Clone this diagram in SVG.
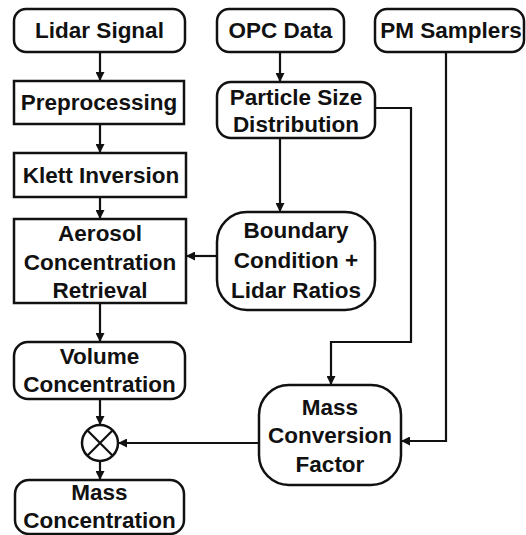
<svg xmlns="http://www.w3.org/2000/svg" width="526" height="535" viewBox="0 0 526 535">
<style>
.box{fill:#fff;stroke:#111;stroke-width:2.5}
.t{font-family:"Liberation Sans",Arial,sans-serif;font-weight:bold;font-size:22.5px;fill:#111;text-anchor:middle}
.c{fill:none;stroke:#111;stroke-width:2.2}
</style>
<defs>
<marker id="ah" viewBox="0 0 10 10" refX="10" refY="5" markerWidth="10" markerHeight="9" markerUnits="userSpaceOnUse" orient="auto">
<path d="M0,0 L10,5 L0,10 Z" fill="#111"/>
</marker>
</defs>
<g id="connectors">
<path class="c" d="M100,52 V81" marker-end="url(#ah)"/>
<path class="c" d="M100,124 V153" marker-end="url(#ah)"/>
<path class="c" d="M100,197 V219" marker-end="url(#ah)"/>
<path class="c" d="M100,303 V342" marker-end="url(#ah)"/>
<path class="c" d="M100,399 V425" marker-end="url(#ah)"/>
<path class="c" d="M100,461 V480" marker-end="url(#ah)"/>
<path class="c" d="M280,52 V82" marker-end="url(#ah)"/>
<path class="c" d="M280,138 V212" marker-end="url(#ah)"/>
<path class="c" d="M217,256 H186" marker-end="url(#ah)"/>
<path class="c" d="M375,108 H411 V342 H331 V385" marker-end="url(#ah)"/>
<path class="c" d="M446,52 V441 H401" marker-end="url(#ah)"/>
<path class="c" d="M259,443 H118" marker-end="url(#ah)"/>
</g>
<g id="lidar-signal">
<rect class="box" x="14" y="9" width="171" height="43" rx="12"/>
<text class="t" x="99.5" y="38">Lidar Signal</text>
</g>
<g id="opc-data">
<rect class="box" x="217" y="9" width="127" height="43" rx="12"/>
<text class="t" x="280.5" y="38">OPC Data</text>
</g>
<g id="pm-samplers">
<rect class="box" x="375" y="9" width="149" height="43" rx="12"/>
<text class="t" x="451" y="38">PM Samplers</text>
</g>
<g id="preprocessing">
<rect class="box" x="14" y="81" width="170" height="43"/>
<text class="t" x="99" y="110">Preprocessing</text>
</g>
<g id="klett-inversion">
<rect class="box" x="14" y="153" width="172" height="44"/>
<text class="t" x="101" y="183">Klett Inversion</text>
</g>
<g id="aerosol-retrieval">
<rect class="box" x="14" y="219" width="172" height="84"/>
<text class="t" x="100" y="241">Aerosol</text>
<text class="t" x="100" y="270">Concentration</text>
<text class="t" x="100" y="298">Retrieval</text>
</g>
<g id="volume-concentration">
<rect class="box" x="14" y="342" width="171" height="57" rx="14"/>
<text class="t" x="99.5" y="364">Volume</text>
<text class="t" x="99.5" y="392">Concentration</text>
</g>
<g id="multiply">
<circle class="box" cx="100" cy="443" r="18"/>
<path class="c" d="M87.3,430.3 L112.7,455.7 M112.7,430.3 L87.3,455.7"/>
</g>
<g id="mass-concentration">
<rect class="box" x="15" y="480" width="169" height="54" rx="14"/>
<text class="t" x="99.5" y="500">Mass</text>
<text class="t" x="99.5" y="528">Concentration</text>
</g>
<g id="particle-size-distribution">
<rect class="box" x="217" y="82" width="158" height="56" rx="14"/>
<text class="t" x="296" y="105">Particle Size</text>
<text class="t" x="296" y="132">Distribution</text>
</g>
<g id="boundary-condition">
<rect class="box" x="217" y="212" width="158" height="98" rx="30"/>
<text class="t" x="296" y="238">Boundary</text>
<text class="t" x="296" y="268">Condition +</text>
<text class="t" x="296" y="298">Lidar Ratios</text>
</g>
<g id="mass-conversion-factor">
<rect class="box" x="259" y="385" width="142" height="100" rx="30"/>
<text class="t" x="330" y="415">Mass</text>
<text class="t" x="330" y="443">Conversion</text>
<text class="t" x="330" y="472">Factor</text>
</g>
</svg>
